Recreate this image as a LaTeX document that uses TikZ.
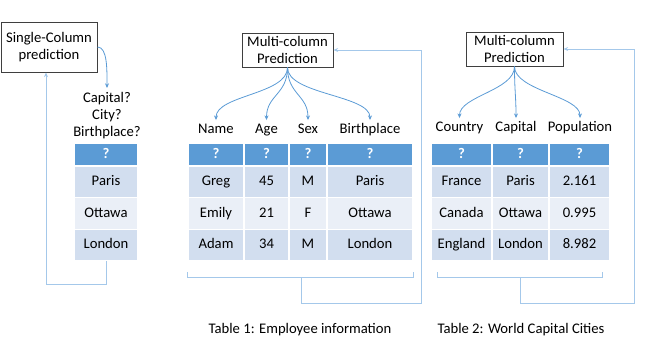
\documentclass[tikz,border=0pt]{standalone}
\usepackage{fontspec}
\setmainfont{Carlito}
\usetikzlibrary{arrows.meta}

\definecolor{hdrblue}{HTML}{5B9BD5}
\definecolor{rowdark}{HTML}{D2DEEF}
\definecolor{rowlight}{HTML}{EAEFF7}
\definecolor{loopblue}{HTML}{A4C8EA}
\definecolor{boxgray}{HTML}{3F3F3F}

\tikzset{
  txt/.style={font=\fontsize{11}{12.5}\selectfont},
  predbox/.style={txt, draw=boxgray, line width=0.75pt, align=center, inner sep=0pt},
  cell/.style={txt, draw=white, line width=1pt, inner sep=0pt, minimum height=23.6pt, text height=7.5pt, text depth=2pt},
  hdr/.style={cell, fill=hdrblue, text=white, font=\fontsize{11}{12}\selectfont\bfseries, minimum height=17.25pt},
  lbl/.style={txt, inner sep=1pt, text height=7.5pt, text depth=2pt},
  arr/.style={-{Stealth[length=3.5pt,width=3pt]}},
  fan/.style={draw=hdrblue, line width=0.6pt, arr, shorten >=1.5pt},
  loopline/.style={draw=loopblue, line width=0.75pt},
}

\begin{document}
\begin{tikzpicture}[x=0.75pt, y=-0.75pt]
\useasboundingbox (0,0) rectangle (664,358);

% una sola columna
\node[predbox, minimum width=72pt, minimum height=37.5pt] (sbox) at (49,47) {Single-Column\\prediction};
\node[txt, font=\fontsize{11}{12.6}\selectfont, align=center, anchor=north, inner sep=0pt] (ask) at (107,92) {Capital?\\City?\\Birthplace?};
\node[hdr, minimum width=48pt] (sh) at (106,154.5) {?};
\foreach \r/\ry/\fc/\ra in {1/182/rowdark/Paris, 2/213.5/rowlight/Ottawa, 3/245/rowdark/London}
  \node[cell, fill=\fc, minimum width=48pt] (s\r) at (106,\ry) {\ra};
\draw[fan, shorten >=3pt] (sbox.east) .. controls +(10,0) and +(0,-22) .. (ask.north);

% tabla 1
\node[predbox, minimum width=68.25pt, minimum height=25.5pt] (mc1) at (287.5,50) {Multi-column\\Prediction};
\foreach \c/\cx/\w/\hd in {1/216/42/Name, 2/266.5/33.75/Age, 3/308/28.5/Sex, 4/370/64.5/Birthplace} {
  \node[lbl] (l\c) at (\cx,130) {\hd};
  \node[hdr, minimum width=\w pt] (ah\c) at (\cx,154.5) {?};
  \draw[fan] (mc1.south) .. controls +(0,27) and +(0,-27) .. (l\c.north);
}
\foreach \r/\ry/\fc/\ra/\rb/\rc/\rd in {1/182/rowdark/Greg/45/M/Paris, 2/213.5/rowlight/Emily/21/F/Ottawa, 3/245/rowdark/Adam/34/M/London} {
  \node[cell, fill=\fc, minimum width=42pt] (a\r1) at (216,\ry) {\ra};
  \node[cell, fill=\fc, minimum width=33.75pt] (a\r2) at (266.5,\ry) {\rb};
  \node[cell, fill=\fc, minimum width=28.5pt] (a\r3) at (308,\ry) {\rc};
  \node[cell, fill=\fc, minimum width=64.5pt] (a\r4) at (370,\ry) {\rd};
}

% tabla 2
\node[predbox, minimum width=72.75pt, minimum height=25.5pt] (mc2) at (514.5,49) {Multi-column\\Prediction};
\foreach \c/\cx/\lx/\w/\hd in {1/461.5/459.5/45.75/Country, 2/520.5/516/42.75/Capital, 3/579.5/580/45.75/Population} {
  \node[lbl] (k\c) at (\lx,128) {\hd};
  \node[hdr, minimum width=\w pt] (bh\c) at (\cx,154.5) {?};
  \draw[fan] (mc2.south) .. controls +(0,24) and +(0,-24) .. (k\c.north);
}
\foreach \r/\ry/\fc/\ra/\rb/\rc in {1/182/rowdark/France/Paris/2.161, 2/213.5/rowlight/Canada/Ottawa/0.995, 3/245/rowdark/England/London/8.982} {
  \node[cell, fill=\fc, minimum width=45.75pt] (b\r1) at (461.5,\ry) {\ra};
  \node[cell, fill=\fc, minimum width=42.75pt] (b\r2) at (520.5,\ry) {\rb};
  \node[cell, fill=\fc, minimum width=45.75pt] (b\r3) at (579.5,\ry) {\rc};
}

% pies de tabla
\node[txt] (cap1) at (300,330) {Table 1: Employee information};
\node[txt] (cap2) at (521,330) {Table 2: World Capital Cities};

% lazos de vuelta
\draw[loopline, arr] (s3.south) -- ++(0,23) -| ([xshift=-2.25pt]sbox.south);
\draw[loopline] ([yshift=-8.25pt]a31.south west) -- ++(0,5) -| ([yshift=-8.25pt]a34.south east);
\coordinate (m1) at (301,277);
\draw[loopline, arr] (m1) -- ++(0,26) -- ++(120,0) |- (mc1.east);
\draw[loopline] ([xshift=5.25pt, yshift=-8.25pt]b31.south west) -- ++(0,5) -| ([xshift=-6pt, yshift=-8.25pt]b33.south east);
\coordinate (m2) at (520,277);
\draw[loopline, arr] (m2) -- ++(0,26) -- ++(114,0) |- (mc2.east);
\end{tikzpicture}
\end{document}
